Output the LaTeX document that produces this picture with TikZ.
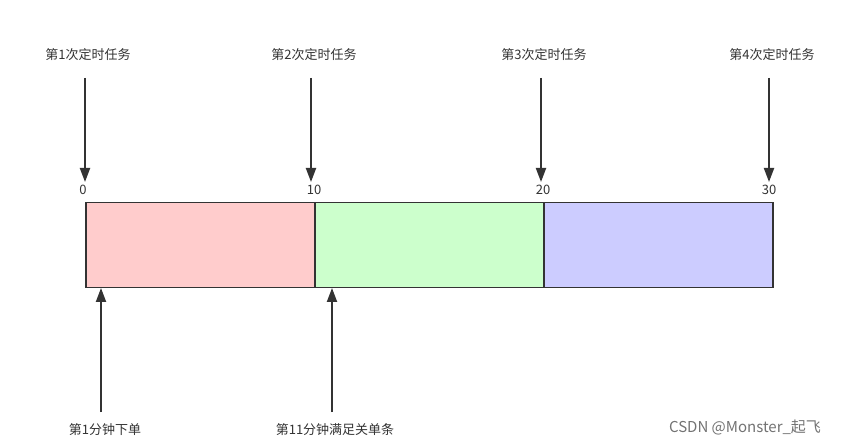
\documentclass[tikz,border=0pt]{standalone}
\usepackage{fontspec}
\setmainfont{Noto Sans CJK SC}
\usetikzlibrary{arrows.meta}
\definecolor{cpink}{HTML}{FFCCCC}
\definecolor{cgreen}{HTML}{CCFFCC}
\definecolor{cblue}{HTML}{CCCCFF}
\begin{document}
\begin{tikzpicture}[x=1pt,y=-1pt,
  lbl/.style={font=\fontsize{13}{15}\selectfont, text=black!80, inner sep=0},
  seg/.style={draw=black!80, line width=1.5pt, minimum height=85pt, inner sep=0, anchor=north west},
  arr/.style={-{Triangle[length=14pt,width=10pt]}, line width=2pt, draw=black!80}]
\useasboundingbox (0,0) rectangle (856,443);
\fill[white] (0,0) rectangle (856,443);
\node[seg, fill=cpink, minimum width=229pt] (s1) at (85,202) {};
\node[seg, fill=cgreen, minimum width=229pt] (s2) at (314,202) {};
\node[seg, fill=cblue, minimum width=229pt] (s3) at (543,202) {};
\foreach \x/\n/\t/\lx in {85/1/0/83, 311/2/10/314, 541/3/20/543, 769/4/30/769}{
  \node[lbl] (t\n) at (\x+3,55) {第\n 次定时任务};
  \coordinate (a\n) at (\x,78);
  \coordinate (b\n) at (\x,182);
  \draw[arr] (a\n) -- (b\n);
  \node[lbl] (n\n) at (\lx,190) {\t};
}
\coordinate (c1) at (101,412); \coordinate (d1) at (101,288);
\coordinate (c2) at (332,412); \coordinate (d2) at (332,288);
\draw[arr] (c1) -- (d1);
\draw[arr] (c2) -- (d2);
\node[lbl] (l1) at (105,430) {第1分钟下单};
\node[lbl] (l2) at (335,430) {第11分钟满足关单条};
\node[lbl, text=black!55, font=\fontsize{15}{17}\selectfont] (wm) at (745,428) {CSDN @Monster\_起飞};
\end{tikzpicture}
\end{document}
